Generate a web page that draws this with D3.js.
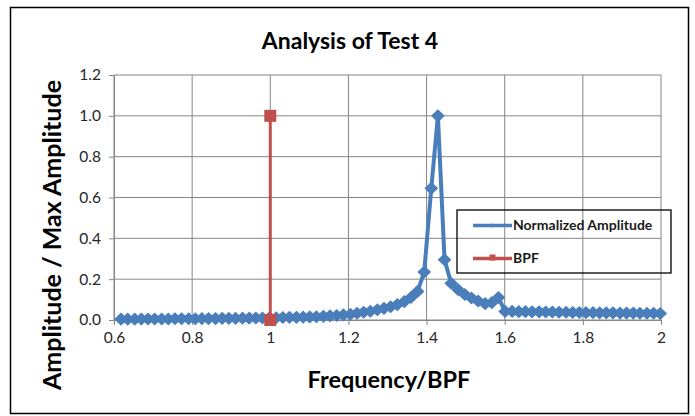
<!DOCTYPE html>
<html>
<head>
<meta charset="utf-8">
<script src="https://cdn.jsdelivr.net/npm/d3@7"></script>
<style>
  html, body { margin: 0; padding: 0; background: #fff; }
  svg { display: block; }
  text { font-family: Lato, "Open Sans", sans-serif; }
</style>
</head>
<body>
<svg id="chart" width="695" height="416"></svg>
<script>
// ---- data ----
const title = "Analysis of Test 4";
const xTitle = "Frequency/BPF";
const yTitle = "Amplitude / Max Amplitude";
const seriesNames = ["Normalized Amplitude", "BPF"];

const freq = [
  0.618, 0.635, 0.653, 0.670, 0.687, 0.704, 0.722, 0.739, 0.756, 0.773,
  0.791, 0.808, 0.825, 0.842, 0.860, 0.877, 0.894, 0.911, 0.929, 0.946,
  0.963, 0.980, 0.998, 1.015, 1.032, 1.049, 1.067, 1.084, 1.101, 1.118,
  1.136, 1.153, 1.170, 1.187, 1.205, 1.222, 1.239, 1.256, 1.274, 1.291,
  1.308, 1.325, 1.343, 1.360, 1.377, 1.394, 1.412, 1.429, 1.446, 1.463,
  1.481, 1.498, 1.515, 1.532, 1.550, 1.567, 1.584, 1.601, 1.619, 1.636,
  1.653, 1.670, 1.688, 1.705, 1.722, 1.739, 1.757, 1.774, 1.791, 1.808,
  1.826, 1.843, 1.860, 1.877, 1.895, 1.912, 1.929, 1.946, 1.964, 1.981,
  1.998
];
const normAmp = [
  0.004, 0.004, 0.004, 0.005, 0.005, 0.005, 0.005, 0.005, 0.006, 0.006,
  0.006, 0.006, 0.007, 0.007, 0.007, 0.008, 0.008, 0.008, 0.009, 0.009,
  0.010, 0.010, 0.011, 0.011, 0.012, 0.013, 0.013, 0.014, 0.015, 0.016,
  0.018, 0.020, 0.022, 0.025, 0.028, 0.033, 0.038, 0.043, 0.050, 0.057,
  0.065, 0.075, 0.090, 0.110, 0.140, 0.235, 0.645, 1.000, 0.295, 0.180,
  0.148, 0.125, 0.108, 0.093, 0.080, 0.085, 0.110, 0.042, 0.042, 0.041,
  0.041, 0.040, 0.040, 0.039, 0.039, 0.038, 0.038, 0.037, 0.037, 0.036,
  0.036, 0.035, 0.035, 0.035, 0.034, 0.034, 0.034, 0.033, 0.033, 0.033,
  0.032
];
const bpfX = [1, 1];
const bpfY = [1, 0];

const xTicks = [0.6, 0.8, 1, 1.2, 1.4, 1.6, 1.8, 2];
const yTicks = [0, 0.2, 0.4, 0.6, 0.8, 1.0, 1.2];

// ---- layout ----
const svg = d3.select("#chart");
const blue = "#4a7ebb", red = "#c0504d";

const x = d3.scaleLinear().domain([0.6, 2]).range([114, 661]);
const y = d3.scaleLinear().domain([0, 1.2]).range([320, 75]);

// outer border
svg.append("rect").attr("x", 10.5).attr("y", 7.5).attr("width", 678).attr("height", 406)
  .attr("fill", "#fff").attr("stroke", "#000").attr("stroke-width", 1.5);

// gridlines
const grid = svg.append("g");
grid.selectAll("line.v").data(xTicks).enter().append("line")
  .attr("x1", d => x(d)).attr("x2", d => x(d))
  .attr("y1", y(1.2)).attr("y2", y(0))
  .attr("stroke", "#868686").attr("stroke-width", 1);
grid.selectAll("line.h").data(yTicks).enter().append("line")
  .attr("y1", d => y(d)).attr("y2", d => y(d))
  .attr("x1", x(0.6)).attr("x2", x(2))
  .attr("stroke", "#868686").attr("stroke-width", 1);

// axes
const xAxis = d3.axisBottom(x).tickValues(xTicks).tickSize(5).tickPadding(7)
  .tickFormat(d => d3.format("")(+d.toFixed(1)));
const yAxis = d3.axisLeft(y).tickValues(yTicks).tickSize(5).tickPadding(8)
  .tickFormat(d3.format(".1f"));

const gx = svg.append("g").attr("transform", `translate(0,${y(0)})`).call(xAxis);
const gy = svg.append("g").attr("transform", `translate(${x(0.6)},0)`).call(yAxis);
[gx, gy].forEach(g => {
  g.select(".domain").attr("stroke", "#868686");
  g.selectAll(".tick line").attr("stroke", "#868686");
  g.selectAll(".tick text").attr("font-size", 15.5).attr("fill", "#262626")
    .attr("font-family", "Lato, sans-serif");
});

const line = d3.line().x(d => x(d[0])).y(d => y(d[1]));

// Normalized amplitude series
const ampData = freq.map((v, i) => [v, normAmp[i]]);
svg.append("path").datum(ampData).attr("d", line)
  .attr("fill", "none").attr("stroke", blue).attr("stroke-width", 4)
  .attr("stroke-linejoin", "round");
const diamond = d3.symbol().type(d3.symbolDiamond2).size(110);
svg.selectAll("path.pt").data(ampData).enter().append("path")
  .attr("d", diamond)
  .attr("transform", d => `translate(${x(d[0])},${y(d[1])}) scale(1.05,1)`)
  .attr("fill", blue);

// BPF series (drawn on top)
const bpfData = bpfX.map((v, i) => [v, bpfY[i]]);
svg.append("path").datum(bpfData).attr("d", line)
  .attr("fill", "none").attr("stroke", red).attr("stroke-width", 3);
svg.selectAll("rect.bpf").data(bpfData).enter().append("rect")
  .attr("x", d => x(d[0]) - 6).attr("y", d => y(d[1]) - 6)
  .attr("width", 12).attr("height", 12).attr("fill", red);

// legend
const lg = svg.append("g");
lg.append("rect").attr("x", 457).attr("y", 210).attr("width", 214).attr("height", 63)
  .attr("fill", "none").attr("stroke", "#000").attr("stroke-width", 1.3);
const legendItems = [
  { name: seriesNames[0], color: blue, yy: 225.5, marker: "diamond" },
  { name: seriesNames[1], color: red, yy: 258.5, marker: "square" }
];
legendItems.forEach(it => {
  lg.append("line").attr("x1", 473).attr("x2", 512).attr("y1", it.yy).attr("y2", it.yy)
    .attr("stroke", it.color).attr("stroke-width", 3.5);
  if (it.marker === "diamond") {
    lg.append("path").attr("d", d3.symbol().type(d3.symbolDiamond2).size(14))
      .attr("transform", `translate(492.5,${it.yy})`).attr("fill", it.color);
  } else {
    lg.append("rect").attr("x", 489.5).attr("y", it.yy - 4).attr("width", 6).attr("height", 6)
      .attr("fill", it.color);
  }
  lg.append("text").attr("x", 513).attr("y", it.yy).attr("dy", "0.35em")
    .attr("font-size", 14).attr("font-weight", "bold").attr("fill", "#1a1a1a")
    .text(it.name);
});

// titles
svg.append("text").attr("x", 350).attr("y", 49).attr("text-anchor", "middle")
  .attr("font-size", 23).attr("font-weight", "bold").attr("fill", "#000").text(title);
svg.append("text").attr("x", 389).attr("y", 388).attr("text-anchor", "middle")
  .attr("font-size", 23.5).attr("font-weight", "bold").attr("fill", "#000").text(xTitle);
svg.append("text").attr("transform", "translate(61,235) rotate(-90)")
  .attr("text-anchor", "middle")
  .attr("font-size", 25).attr("font-weight", "bold").attr("fill", "#000").text(yTitle);
</script>
</body>
</html>
